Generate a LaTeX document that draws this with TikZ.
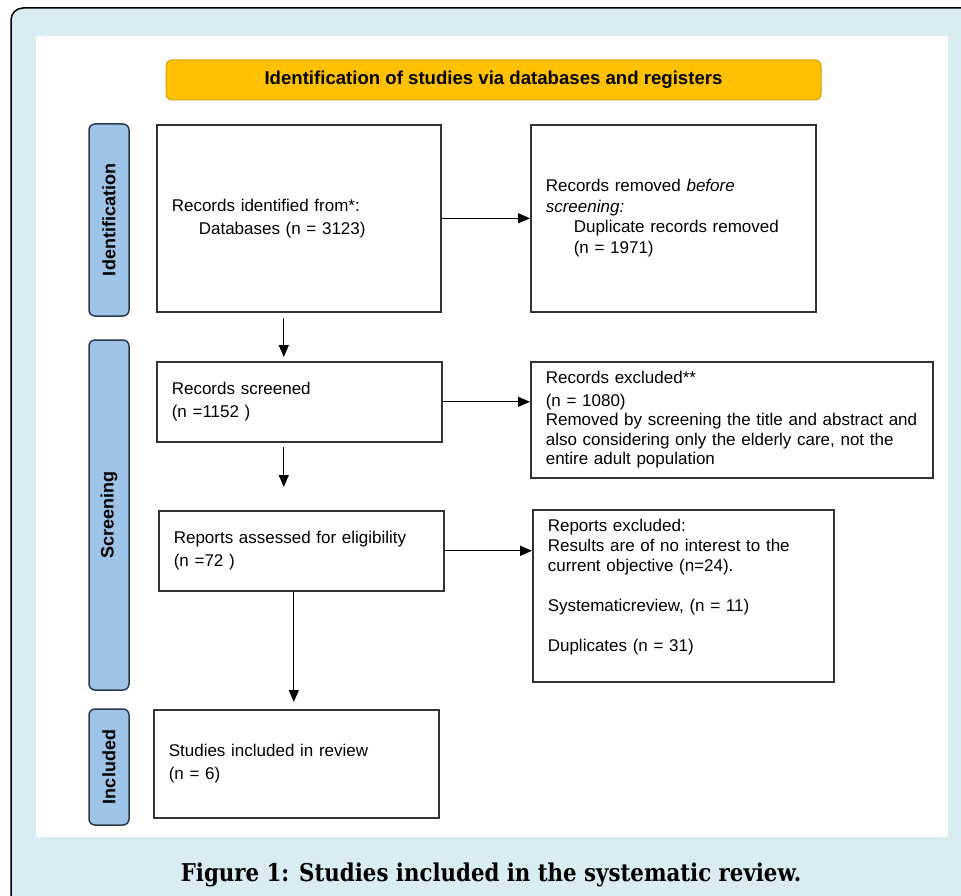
\documentclass[tikz,border=0pt]{standalone}
\usepackage{fontspec}
\setmainfont{Liberation Sans}
\newfontfamily\capfont[FakeStretch=0.87]{DejaVu Serif}
\usetikzlibrary{arrows.meta}
\definecolor{bgblue}{HTML}{D8ECF1}
\definecolor{hdrfill}{HTML}{FFC000}
\definecolor{hdrdraw}{HTML}{D4A300}
\definecolor{sidefill}{HTML}{9DC3E6}
\definecolor{sidedraw}{HTML}{2B3A4A}
\definecolor{boxdraw}{HTML}{333333}
\begin{document}
\begin{tikzpicture}[x=1pt,y=-1pt,
  box/.style={draw=boxdraw, line width=1.6pt, fill=white, inner xsep=15pt, inner ysep=0pt,
    align=left, anchor=north west, font=\fontsize{17}{23}\selectfont},
  side/.style={draw=sidedraw, fill=sidefill, line width=1.5pt, rounded corners=6pt,
    rotate=90, minimum height=40pt, inner sep=0pt, font=\bfseries\fontsize{18}{20}\selectfont},
  arr/.style={-{Triangle[length=12pt,width=10pt]}, line width=1.3pt}]
\useasboundingbox (0,0) rectangle (961,896);
\clip (0,0) rectangle (961,896);
% frame and panel
\path[draw=black, line width=1.5pt, fill=bgblue, rounded corners=12pt] (11,8) rectangle (990,930);
\fill[white] (36,36) rectangle (948,837);
% header
\node[draw=hdrdraw, fill=hdrfill, line width=1pt, rounded corners=6pt, minimum width=655pt,
  minimum height=40pt, font=\bfseries\fontsize{18.6}{20}\selectfont] (hdr) at (493.5,80)
  {Identification of studies via databases and registers};
% side labels
\node[side, minimum width=192pt] (sid) at (109,220) {Identification};
\node[side, minimum width=350pt] (sscr) at (109,515) {Screening};
\node[side, minimum width=116pt] (sinc) at (109,767) {Included};
% boxes
\node[box, text width=254pt, minimum height=187pt] (b1) at (156,124)
  {Records identified from*:\\\hspace*{27pt}Databases (n = 3123)};
\node[box, text width=255pt, minimum height=187pt, font=\fontsize{17}{20.5}\selectfont] (rem) at (530,124)
  {Records removed \textit{before}\\\textit{screening:}\\\hspace*{28pt}Duplicate records removed\\\hspace*{28pt}(n = 1971)};
\node[box, text width=255pt, minimum height=80pt] (scr) at (156,361)
  {Records screened\\(n =1152 )};
\node[box, text width=372pt, minimum height=116pt, font=\fontsize{17}{19.5}\selectfont] (exc) at (530,361)
  {Records excluded**\\[3pt](n = 1080)\\Removed by screening the title and abstract and\\also considering only the elderly care, not the\\entire adult population};
\node[box, text width=255pt, minimum height=80pt] (ass) at (158,510)
  {Reports assessed for eligibility\\(n =72 )};
\node[box, text width=271pt, minimum height=172pt, font=\fontsize{17}{20}\selectfont] (rep) at (532,509)
  {Reports excluded:\\Results are of no interest to the\\current objective (n=24).\\[20pt]Systematicreview, (n = 11)\\[20pt]Duplicates (n = 31)\\\mbox{}};
\node[box, text width=255pt, minimum height=108pt] (inc) at (153,709)
  {Studies included in review\\(n = 6)};
% arrows
\draw[arr] (b1.east) -- (b1.east -| rem.west);
\draw[arr] (scr.east) -- (scr.east -| exc.west);
\draw[arr] (ass.east) -- (ass.east -| rep.west);
\path ([xshift=-15pt,yshift=-5pt]b1.south) coordinate (a1);
\draw[arr, shorten >=4pt] (a1) -- (a1 |- scr.north);
\path ([xshift=-15.5pt,yshift=-4pt]scr.south) coordinate (a2);
\draw[arr, shorten >=23pt] (a2) -- (a2 |- ass.north);
\path ([xshift=-7.5pt]ass.south) coordinate (a3);
\draw[arr, shorten >=7pt] (a3) -- (a3 |- inc.north);
% caption
\node[font=\capfont\bfseries\fontsize{24.5}{30}\selectfont, anchor=base] (cap) at (491,881)
  {Figure 1: Studies included in the systematic review.};
\end{tikzpicture}
\end{document}
